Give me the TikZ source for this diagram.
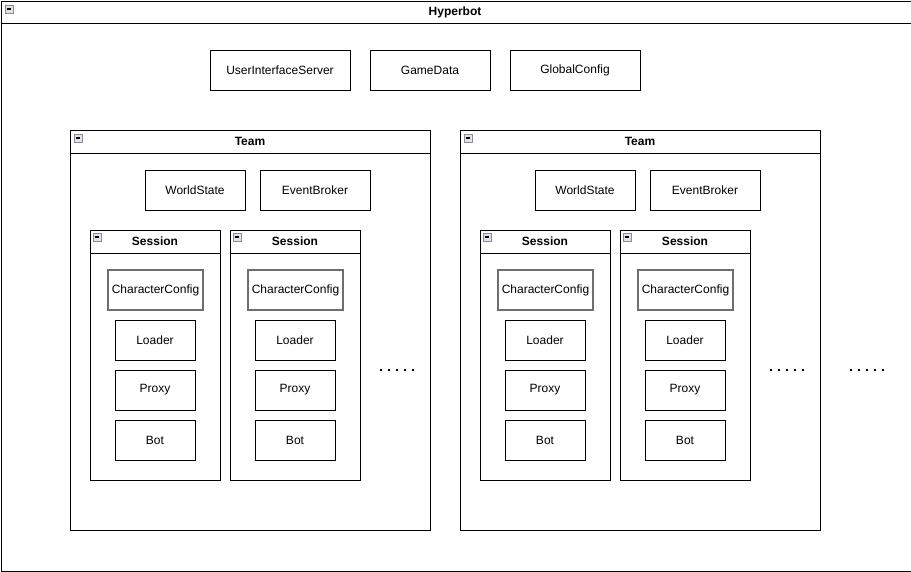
\documentclass[tikz,border=0pt]{standalone}
\usepackage{fontspec}
\setmainfont{Liberation Sans}
\definecolor{cfgedge}{RGB}{110,110,110}
\definecolor{iconedge}{RGB}{140,140,150}
\definecolor{iconfill}{RGB}{225,225,230}
\tikzset{
  every node/.style={font=\fontsize{12}{14}\selectfont, inner sep=0pt},
  box/.style={draw=black, line width=1pt, fill=white, minimum width=80, minimum height=40},
  cfgbox/.style={draw=cfgedge, line width=1.6pt, fill=white, minimum width=95, minimum height=40},
  frame/.style={draw=black, line width=1pt},
  heading/.style={font=\fontsize{12}{14}\selectfont\bfseries},
  dotmark/.style={fill=black, minimum size=2.2, inner sep=0pt},
  collapse/.pic={
    \draw[iconedge, fill=iconfill, line width=0.8pt] (0,0) rectangle (8,8);
    \draw[black, line width=1.2pt] (2,4) -- (6,4);
  }
}
\begin{document}
\begin{tikzpicture}[x=1pt, y=-1pt]
\useasboundingbox (0,0) rectangle (911,571);
\fill[white] (0,0) rectangle (911,571);

% outer container
\node[frame, minimum width=910, minimum height=570, anchor=north west] (hyperbot) at (0.5,0.5) {};
\draw[frame] ([yshift=-23pt]hyperbot.north west) -- ([yshift=-23pt]hyperbot.north east);
\node[heading] (hypertitle) at (455,12) {Hyperbot};
\pic at (5,5) {collapse};

% shared services
\node[box, minimum width=140] (uis) at (280,70) {UserInterfaceServer};
\node[box, minimum width=120] (gamedata) at (430,70) {GameData};
\node[box, minimum width=130] (globalcfg) at (575,70) {GlobalConfig};

% teams
\foreach \t/\tx in {1/0, 2/390} {
  \begin{scope}[xshift=\tx pt]
    \node[frame, minimum width=360, minimum height=400, anchor=north west] (team\t) at (70,130) {};
    \draw[frame] ([yshift=-23pt]team\t.north west) -- ([yshift=-23pt]team\t.north east);
    \node[heading] (team\t title) at (250,141) {Team};
    \pic at (74,134) {collapse};
    \node[box, minimum width=100] (world\t) at (195,190) {WorldState};
    \node[box, minimum width=110] (broker\t) at (315,190) {EventBroker};
    \foreach \s/\sx in {1/0, 2/140} {
      \begin{scope}[xshift=\sx pt]
        \node[frame, minimum width=130, minimum height=250, anchor=north west] (t\t s\s) at (90,230) {};
        \draw[frame] ([yshift=-23pt]t\t s\s.north west) -- ([yshift=-23pt]t\t s\s.north east);
        \node[heading] (t\t s\s title) at (155,241) {Session};
        \pic at (93,233) {collapse};
        \node[cfgbox] (t\t s\s cfg) at (155.5,290) {CharacterConfig};
        \node[box] (t\t s\s loader) at (155,340) {Loader};
        \node[box] (t\t s\s proxy) at (155,390) {Proxy};
        \node[box] (t\t s\s bot) at (155,440) {Bot};
      \end{scope}
    }
    % more sessions
    \foreach \d in {0,...,4} {
      \node[dotmark] (t\t more\d) at (381+8*\d,370) {};
    }
  \end{scope}
}

% more teams
\foreach \d in {0,...,4} {
  \node[dotmark] (moreteam\d) at (851+8*\d,370) {};
}
\end{tikzpicture}
\end{document}
